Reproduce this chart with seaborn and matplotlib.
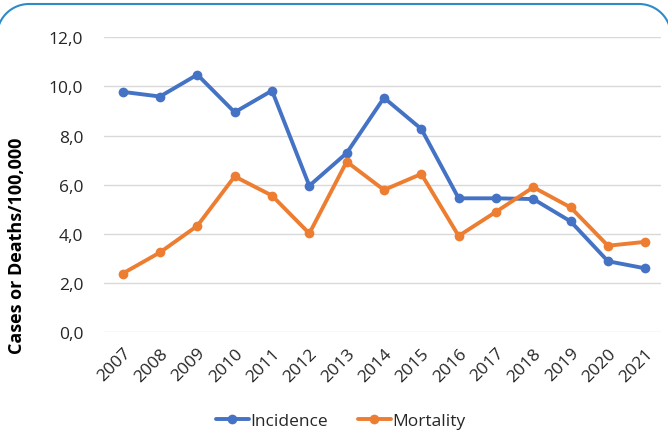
import matplotlib
matplotlib.use("Agg")
import matplotlib.pyplot as plt
import seaborn as sns
import pandas as pd
import numpy as np
from matplotlib.patches import PathPatch
from matplotlib.path import Path
from matplotlib.transforms import IdentityTransform
from matplotlib.ticker import FuncFormatter
from matplotlib.lines import Line2D

years = ["2007", "2008", "2009", "2010", "2011", "2012", "2013", "2014",
         "2015", "2016", "2017", "2018", "2019", "2020", "2021"]
incidence = [9.78, 9.59, 10.48, 8.95, 9.83, 5.96, 7.29, 9.54, 8.27, 5.45,
             5.45, 5.42, 4.51, 2.89, 2.60]
mortality = [2.39, 3.25, 4.33, 6.34, 5.56, 4.02, 6.94, 5.79, 6.44, 3.92,
             4.90, 5.90, 5.08, 3.52, 3.68]
series_names = ["Incidence", "Mortality"]
colors = ["#4472C4", "#ED7D31"]

df = pd.concat([
    pd.DataFrame({"Year": years, "Value": incidence, "Series": series_names[0]}),
    pd.DataFrame({"Year": years, "Value": mortality, "Series": series_names[1]}),
])

sns.set_style("white")
plt.rcParams["font.family"] = ["Open Sans", "DejaVu Sans"]

fig = plt.figure(figsize=(6.68, 4.39), dpi=100)
ax = fig.add_axes([0.1557, 0.2408, 0.9895 - 0.1557, 0.9128 - 0.2408])

sns.lineplot(data=df, x="Year", y="Value", hue="Series", palette=colors,
             marker="o", markersize=7, markeredgewidth=0, linewidth=2.8,
             ax=ax, legend=False, sort=False)

ax.set_ylim(0, 12)
ax.set_yticks([0, 2, 4, 6, 8, 10, 12])
ax.yaxis.set_major_formatter(FuncFormatter(lambda v, p: f"{v:.1f}".replace(".", ",")))
ax.set_xlim(-0.5, 14.42)
ax.grid(axis="y", color="#D9D9D9", linewidth=1.0)
ax.grid(axis="x", visible=False)
ax.set_axisbelow(True)
for s in ax.spines.values():
    s.set_visible(False)
ax.tick_params(axis="both", length=0, labelsize=12.5, colors="#262626")
ax.tick_params(axis="y", pad=15)
ax.tick_params(axis="x", pad=9)
for lbl in ax.get_xticklabels():
    lbl.set_rotation(45)
    lbl.set_ha("right")
    lbl.set_rotation_mode("anchor")
ax.set_xlabel("")
ax.set_ylabel("")

fig.text(17 / 668, 1 - 246 / 439, "Cases or Deaths/100,000", rotation=90,
         ha="center", va="center", fontsize=13, fontweight="bold", color="black")

handles = [Line2D([0], [0], color=c, linewidth=2.8, marker="o", markersize=7,
                  markeredgewidth=0) for c in colors]
fig.legend(handles, series_names, loc="center", bbox_to_anchor=(0.51, 1 - 422 / 439),
           ncol=2, frameon=False, fontsize=12.5, handlelength=1.9,
           columnspacing=1.7, handletextpad=0.1, labelcolor="#262626")

# rounded chart-area frame drawn in pixel space (y up), sides fall off-canvas
W, H = 668, 439
x0, x1, top, r = -3, 671, H - 5, 32
t = np.linspace(0, np.pi / 2, 30)
left_arc = np.column_stack([x0 + r - r * np.cos(t), top - r + r * np.sin(t)])
right_arc = np.column_stack([x1 - r + r * np.sin(t), top - r + r * np.cos(t)])
verts = np.vstack([[[x0, -50]], left_arc, right_arc, [[x1, -50]]])
frame = PathPatch(Path(verts), transform=IdentityTransform(), fill=False,
                  edgecolor="#2E8BC9", linewidth=1.5, clip_on=False)
fig.patches.append(frame)

fig.savefig("out.png", dpi=100)
